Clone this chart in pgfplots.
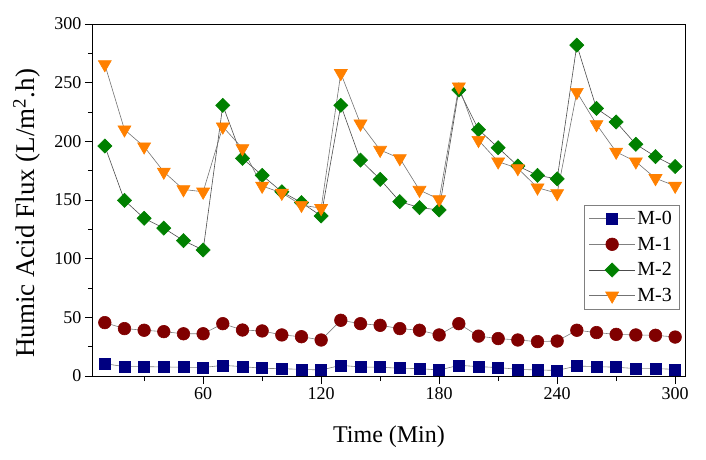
\documentclass[border=0pt]{standalone}
\usepackage{fontspec}
\setmainfont{Liberation Serif}
\usepackage{pgfplots}
\pgfplotsset{compat=1.18}

\definecolor{cM0}{RGB}{0,0,128}
\definecolor{cM1}{RGB}{128,0,0}
\definecolor{cM2}{RGB}{0,128,0}
\definecolor{cM3}{RGB}{255,128,0}

\pgfplotstableread{
t   m0    m1    m2     m3
10  10.5  45.5  196    265.6
20  8.0   40.4  149.7  210
30  8.0   39.0  134.4  195.5
40  7.7   37.8  126    174
50  7.5   36.0  115.4  159
60  7.2   36.0  107.4  157
70  9.1   44.6  230.7  212.5
80  8.0   39.2  185.5  194
90  6.6   38.4  171    162
100 6.2   35.0  157    156
110 5.7   33.5  147.8  145.7
120 5.1   30.7  136.4  143
130 9.1   47.5  230.7  258
140 7.7   44.6  184    215
150 7.5   43.2  167.6  192.6
160 6.6   40.4  148.6  185.5
170 6.3   39.0  143.5  158.5
180 5.1   35.0  141.5  150.6
190 9.1   44.6  243.8  246.6
200 8.0   34.0  210    201
210 7.2   31.9  194.6  182.7
220 5.7   30.7  179    177
230 5.1   29.3  171    160.5
240 4.8   29.8  168    155.7
250 8.5   39.0  282    242
260 8.0   37.0  228    214.5
270 7.5   35.5  216.5  191
280 6.3   35.0  197.5  182.7
290 6.3   34.7  187    168.5
300 5.7   33.2  178.5  162
}\flux

\pgfplotsset{
  long legend/.style={legend image code/.code={%
    \draw[mark repeat=2,mark phase=2]
      plot coordinates {(0pt,0pt) (23pt,0pt) (46pt,0pt)};}},
}

\begin{document}
\begin{tikzpicture}
\begin{axis}[
  scale only axis,
  width=592pt, height=352pt,
  xmin=4, xmax=305,
  ymin=0, ymax=300,
  xtick={60,120,180,240,300},
  minor xtick={30,90,150,210,270},
  ytick={0,50,...,300},
  minor y tick num=1,
  tick align=outside,
  tick pos=left,
  major tick length=8pt,
  minor tick length=5pt,
  every tick/.style={black, line width=0.8pt},
  axis line style={black, line width=1pt},
  /pgf/number format/assume math mode=true,
  ticklabel style={font=\fontsize{18}{20}\selectfont},
  xlabel={Time (Min)},
  ylabel={Humic Acid Flux (L/m\textsuperscript{2}.h)},
  xlabel style={font=\fontsize{24}{26}\selectfont,
    at={(axis description cs:0.5,-0.172)}, anchor=center},
  ylabel style={font=\fontsize{27}{29}\selectfont,
    at={(axis description cs:-0.112,0.462)}, anchor=center},
  legend style={at={(0.99,0.486)}, anchor=north east, draw=gray,
    font=\fontsize{20}{24}\selectfont, row sep=7pt,
    inner xsep=5pt, inner ysep=4pt,
    cells={anchor=west}},
  every axis plot/.append style={long legend},
]
\addplot[gray, line width=0.6pt, mark=square*, mark size=5.5pt,
  mark options={fill=cM0, draw=cM0, solid}] table[x=t, y=m0] {\flux};
\addlegendentry{M-0}
\addplot[gray, line width=0.6pt, mark=*, mark size=6.3pt,
  mark options={fill=cM1, draw=cM1, solid}] table[x=t, y=m1] {\flux};
\addlegendentry{M-1}
\addplot[black!70, line width=0.6pt, mark=square*, mark size=5pt,
  mark options={fill=cM2, draw=cM2, rotate=45, solid}] table[x=t, y=m2] {\flux};
\addlegendentry{M-2}
\addplot[black!55, line width=0.6pt, mark=triangle*, mark size=7.5pt,
  mark options={fill=cM3, draw=cM3, rotate=180, solid}] table[x=t, y=m3] {\flux};
\addlegendentry{M-3}
\end{axis}
\pgfresetboundingbox
\useasboundingbox (-93pt,-83pt) rectangle (613pt,376pt);
\end{tikzpicture}
\end{document}
